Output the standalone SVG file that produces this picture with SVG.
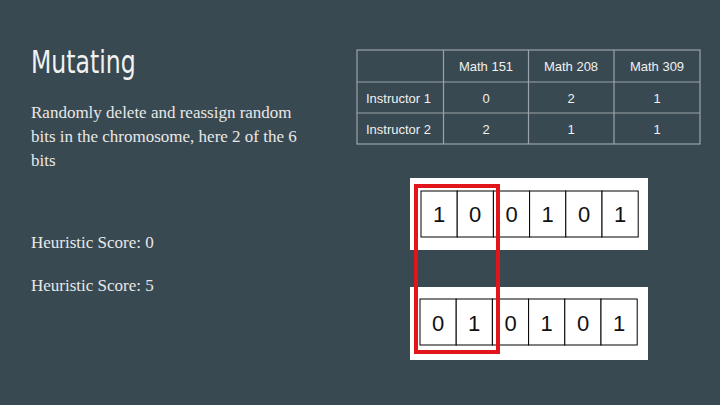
<svg xmlns="http://www.w3.org/2000/svg" width="720" height="405" viewBox="0 0 720 405">
<style>
.t{fill:#e8e8e8;font-family:"Liberation Serif","DejaVu Serif",serif;font-size:17px}
.tb{fill:#f0f0f0;font-family:"Liberation Sans",Arial,sans-serif;font-size:13px}
.g{stroke:#9aa3a8;stroke-width:1.2;fill:none}
.c{fill:#fff;stroke:#000;stroke-width:1}
.b{font-family:"Liberation Sans",Arial,sans-serif;font-size:22px;fill:#111;text-anchor:middle}
</style>
<rect width="720" height="405" fill="#394951"/>
<g id="title"><text x="31" y="73" fill="#f2f2f2" font-family="'DejaVu Sans Condensed','DejaVu Sans',sans-serif" font-stretch="condensed" font-size="32" transform="translate(31 0) scale(0.82 1) translate(-31 0)">Mutating</text></g>
<g id="desc" class="t">
<text x="31" y="118">Randomly delete and reassign random</text>
<text x="31" y="142">bits in the chromosome, here 2 of the 6</text>
<text x="31" y="166">bits</text>
<text x="31" y="248">Heuristic Score: 0</text>
<text x="31" y="291">Heuristic Score: 5</text>
</g>
<g id="table">
<rect class="g" x="357" y="50" width="343" height="94"/>
<path class="g" d="M443.5 50V144M528.5 50V144M614 50V144M357 82H700M357 113H700"/>
<g class="tb" text-anchor="middle">
<text x="486" y="71">Math 151</text><text x="571" y="71">Math 208</text><text x="657" y="71">Math 309</text>
<text x="486" y="103">0</text><text x="571" y="103">2</text><text x="657" y="103">1</text>
<text x="486" y="134">2</text><text x="571" y="134">1</text><text x="657" y="134">1</text>
</g>
<text class="tb" x="366" y="103">Instructor 1</text>
<text class="tb" x="366" y="134">Instructor 2</text>
</g>
<g id="chrom1">
<rect x="410" y="178" width="238" height="72" fill="#fff"/>
<g transform="translate(421 191)">
<rect class="c" x="0" width="36.2" height="46"/><rect class="c" x="36.2" width="36.2" height="46"/><rect class="c" x="72.4" width="36.2" height="46"/><rect class="c" x="108.6" width="36.2" height="46"/><rect class="c" x="144.8" width="36.2" height="46"/><rect class="c" x="181" width="36.2" height="46"/>
<text class="b" x="18" y="31">1</text><text class="b" x="54" y="31">0</text><text class="b" x="90.5" y="31">0</text><text class="b" x="126.7" y="31">1</text><text class="b" x="163" y="31">0</text><text class="b" x="199" y="31">1</text>
</g>
</g>
<g id="chrom2">
<rect x="410" y="287" width="238" height="73" fill="#fff"/>
<g transform="translate(420 299)">
<rect class="c" x="0" width="36.2" height="46"/><rect class="c" x="36.2" width="36.2" height="46"/><rect class="c" x="72.4" width="36.2" height="46"/><rect class="c" x="108.6" width="36.2" height="46"/><rect class="c" x="144.8" width="36.2" height="46"/><rect class="c" x="181" width="36.2" height="46"/>
<text class="b" x="18" y="32">0</text><text class="b" x="54" y="32">1</text><text class="b" x="90.5" y="32">0</text><text class="b" x="126.7" y="32">1</text><text class="b" x="163" y="32">0</text><text class="b" x="199" y="32">1</text>
</g>
</g>
<g id="highlight"><rect x="416" y="186" width="82" height="166" fill="none" stroke="#e0161b" stroke-width="4"/></g>
</svg>
